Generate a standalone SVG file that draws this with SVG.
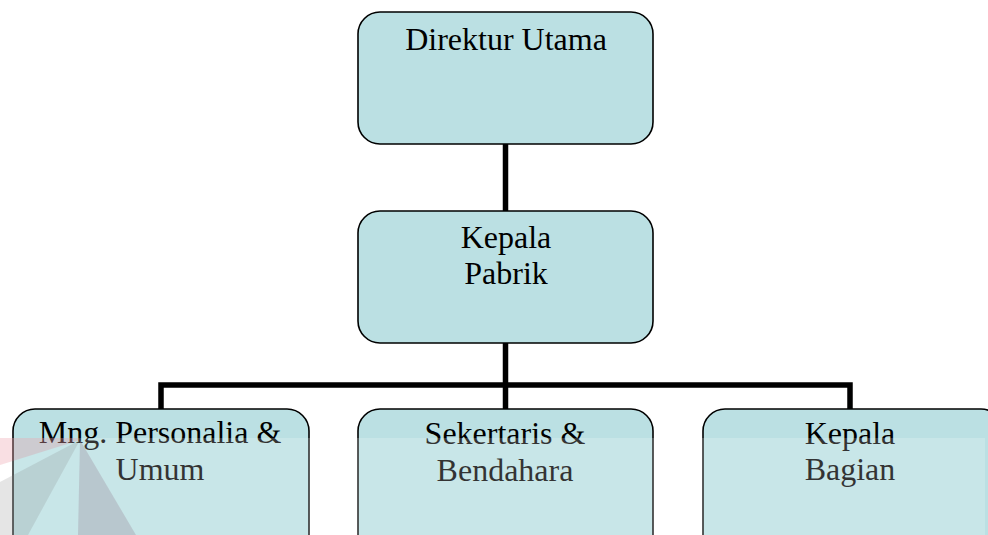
<svg xmlns="http://www.w3.org/2000/svg" width="988" height="535" viewBox="0 0 988 535">
<style>
.box{fill:#bbe0e3;stroke:#000;stroke-width:1.6}
.lbl{font-family:'Liberation Serif','Times New Roman',Times,'DejaVu Serif',serif;font-size:32px;fill:#000;text-anchor:middle}
.conn{fill:none;stroke:#000;stroke-width:5.5;stroke-linejoin:miter}
</style>
<rect width="988" height="535" fill="#fff"/>
<g id="connectors">
<path class="conn" d="M505.5,144 V211"/>
<path class="conn" d="M505.5,343 V409"/>
<path class="conn" d="M161,409 V385 H850 V409"/>
</g>
<g id="direktur">
<rect class="box" x="358" y="12" width="295" height="132" rx="22"/>
<text class="lbl" x="506" y="50" font-family="Liberation Serif, serif">Direktur Utama</text>
</g>
<g id="kepala-pabrik">
<rect class="box" x="358" y="211" width="295" height="132" rx="22"/>
<text class="lbl" x="506" y="248">Kepala</text>
<text class="lbl" x="506" y="284">Pabrik</text>
</g>
<g id="personalia">
<rect class="box" x="13" y="409" width="296" height="150" rx="22"/>
<text class="lbl" x="160" y="443">Mng. Personalia &amp;</text>
<text class="lbl" x="160" y="480">Umum</text>
</g>
<g id="sekertaris">
<rect class="box" x="358" y="409" width="295" height="150" rx="22"/>
<text class="lbl" x="505" y="444">Sekertaris &amp;</text>
<text class="lbl" x="505" y="481">Bendahara</text>
</g>
<g id="kepala-bagian">
<rect class="box" x="703" y="409" width="300" height="150" rx="22"/>
<text class="lbl" x="850" y="444">Kepala</text>
<text class="lbl" x="850" y="480">Bagian</text>
</g>
<g id="watermark">
<polygon points="0,438 78,438 80,440 0,465" fill="#dc3c50" opacity="0.2"/>
<polygon points="80,440 0,482 0,535 28,535" fill="#606060" opacity="0.2"/>
<polygon points="80,440 78,535 136,535" fill="#7a6478" opacity="0.3"/>
<rect x="0" y="438" width="985" height="97" fill="#fff" opacity="0.2"/>
</g>
</svg>
